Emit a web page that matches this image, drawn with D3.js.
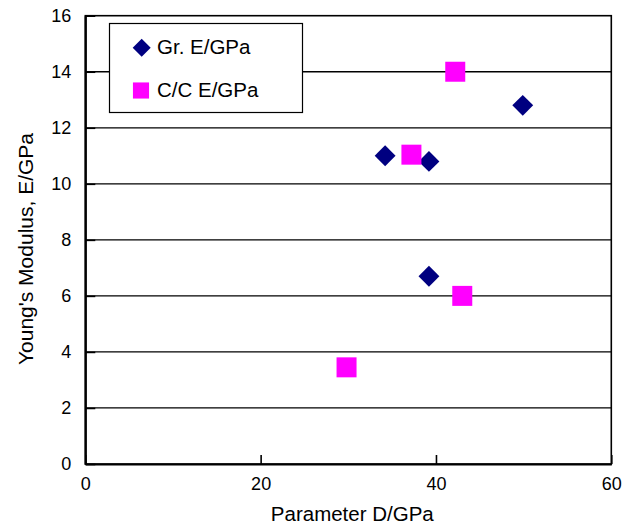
<!DOCTYPE html>
<html lang="en">
<head>
    <meta charset="UTF-8">
    <title>Young's Modulus vs Parameter D</title>
    <script src="https://d3js.org/d3.v7.min.js"></script>
    <style>
        body {
            margin: 0;
            background: #fff;
            font-family: 'Liberation Sans', Arial, sans-serif;
        }
    </style>
</head>
<body>
    <div id="chart"></div>

    <script>
        // Data
        const grD = [34.2, 39.2, 49.9, 39.2];
        const grE = [11.0, 10.8, 12.8, 6.7];
        const ccD = [42.2, 37.2, 29.8, 43.0];
        const ccE = [14.0, 11.04, 3.45, 6.0];
        const xTicks = [0, 20, 40, 60];
        const yTicks = [0, 2, 4, 6, 8, 10, 12, 14, 16];
        const seriesNames = ["Gr. E/GPa", "C/C E/GPa"];

        const width = 638;
        const height = 530;
        const margin = { top: 15.7, right: 26.7, bottom: 66, left: 85.3 };

        const svg = d3.select("#chart")
            .append("svg")
            .attr("width", width)
            .attr("height", height);

        const x = d3.scaleLinear()
            .domain([0, 60])
            .range([margin.left, width - margin.right]);

        const y = d3.scaleLinear()
            .domain([0, 16])
            .range([height - margin.bottom, margin.top]);

        // Gridlines
        svg.append("g")
            .selectAll("line")
            .data(yTicks.filter(d => d > 0 && d < 16))
            .join("line")
            .attr("x1", x(0))
            .attr("x2", x(60))
            .attr("y1", d => y(d))
            .attr("y2", d => y(d))
            .attr("stroke", "#000")
            .attr("stroke-width", 1.3);

        // Plot frame
        svg.append("rect")
            .attr("x", x(0))
            .attr("y", y(16))
            .attr("width", x(60) - x(0))
            .attr("height", y(0) - y(16))
            .attr("fill", "none")
            .attr("stroke", "#000")
            .attr("stroke-width", 1.6);

        // Axes (inward ticks)
        const xAxis = svg.append("g")
            .attr("transform", `translate(0,${y(0)})`)
            .call(d3.axisBottom(x).tickValues(xTicks).tickSizeInner(-9).tickSizeOuter(0).tickPadding(13));

        const yAxis = svg.append("g")
            .attr("transform", `translate(${x(0)},0)`)
            .call(d3.axisLeft(y).tickValues(yTicks).tickSizeInner(-10).tickSizeOuter(0).tickPadding(24));

        [xAxis, yAxis].forEach(g => {
            g.select(".domain").attr("stroke", "#000").attr("stroke-width", 2.2);
            g.selectAll(".tick line").attr("stroke", "#000").attr("stroke-width", 1.6);
            g.selectAll(".tick text")
                .attr("fill", "#000")
                .style("font-family", "'Liberation Sans', Arial, sans-serif")
                .style("font-size", "18px");
        });
        xAxis.selectAll(".tick text").attr("dy", "0.71em");
        yAxis.selectAll(".tick text").attr("x", -14);

        // Axis titles
        svg.append("text")
            .attr("x", (x(0) + x(60)) / 2 + 4)
            .attr("y", 520.5)
            .attr("text-anchor", "middle")
            .style("font-size", "20.5px")
            .text("Parameter D/GPa");

        svg.append("text")
            .attr("transform", `translate(33,249) rotate(-90)`)
            .attr("text-anchor", "middle")
            .style("font-size", "21px")
            .text("Young's Modulus, E/GPa");

        // Markers
        const diamond = d3.symbol().type(d3.symbolSquare).size(218);
        const square = d3.symbol().type(d3.symbolSquare).size(400);

        svg.append("g")
            .selectAll("path")
            .data(grD.map((d, i) => [d, grE[i]]))
            .join("path")
            .attr("d", diamond)
            .attr("transform", d => `translate(${x(d[0])},${y(d[1])}) rotate(45)`)
            .attr("fill", "#000080");

        svg.append("g")
            .selectAll("path")
            .data(ccD.map((d, i) => [d, ccE[i]]))
            .join("path")
            .attr("d", square)
            .attr("transform", d => `translate(${x(d[0])},${y(d[1])})`)
            .attr("fill", "#ff00ff");

        // Legend
        const legend = svg.append("g");
        legend.append("rect")
            .attr("x", 109.5)
            .attr("y", 23.5)
            .attr("width", 193)
            .attr("height", 89)
            .attr("fill", "#fff")
            .attr("stroke", "#000")
            .attr("stroke-width", 1.2);

        legend.append("path")
            .attr("d", d3.symbol().type(d3.symbolSquare).size(162))
            .attr("transform", "translate(141.7,47.7) rotate(45)")
            .attr("fill", "#000080");

        legend.append("path")
            .attr("d", d3.symbol().type(d3.symbolSquare).size(260))
            .attr("transform", "translate(141,90.5)")
            .attr("fill", "#ff00ff");

        legend.selectAll("text")
            .data(seriesNames)
            .join("text")
            .attr("x", 157)
            .attr("y", (d, i) => i === 0 ? 54 : 97.3)
            .style("font-size", "20.5px")
            .text(d => d);
    </script>
</body>
</html>
